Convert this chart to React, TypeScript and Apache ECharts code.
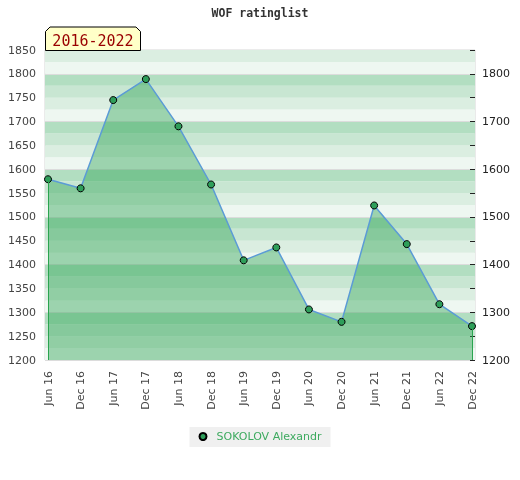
import React, { useEffect, useRef } from "react";
import * as echarts from "echarts";

const categories = [
  "Jun 16", "Dec 16", "Jun 17", "Dec 17", "Jun 18", "Dec 18", "Jun 19",
  "Dec 19", "Jun 20", "Dec 20", "Jun 21", "Dec 21", "Jun 22", "Dec 22",
];
const ratings = [1579, 1560, 1745, 1789, 1690, 1568, 1409, 1436, 1306, 1280, 1524, 1443, 1317, 1271];
const seriesName = "SOKOLOV Alexandr";
const titleText = "WOF ratinglist";
const badgeText = "2016-2022";
const yMin = 1200;
const yMax = 1850;
const bandColors = ["#eef7f1", "#dbeee1", "#c8e6d2", "#b2dec1"];

export default function App() {
  const ref = useRef<HTMLDivElement>(null);
  useEffect(() => {
    if (!ref.current) return;
    const chart = echarts.init(ref.current, null, { renderer: "svg" });
    const n = categories.length;
    chart.setOption({
      animation: false,
      textStyle: { fontFamily: "DejaVu Sans" },
      title: {
        text: titleText,
        left: "center",
        top: 7,
        padding: 0,
        textStyle: {
          fontFamily: "DejaVu Sans Mono",
          fontWeight: "bold",
          fontSize: 11.5,
          color: "#333",
        },
      },
      legend: {
        data: [seriesName],
        icon: "circle",
        itemWidth: 7,
        itemHeight: 7,
        left: "center",
        top: 427,
        padding: [4, 9, 5, 9],
        backgroundColor: "#f0f0f0",
        textStyle: { color: "#3daa5f", fontSize: 11, fontFamily: "DejaVu Sans", padding: [0, 0, 0, 5] },
      },
      grid: [
        { left: 45, top: 50, width: 430, height: 310, show: true, borderColor: "#d6d6d6", borderWidth: 1, backgroundColor: "transparent" },
        { left: 48, top: 50, width: 424, height: 310 },
      ],
      xAxis: [
        { gridIndex: 0, type: "category", data: categories, show: false },
        {
          gridIndex: 1,
          type: "category",
          data: categories,
          boundaryGap: false,
          axisLine: { show: false },
          axisTick: { show: false },
          axisLabel: { rotate: 90, fontSize: 11, color: "#444", margin: 11, interval: 0 },
        },
      ],
      yAxis: [
        {
          gridIndex: 0,
          type: "value",
          position: "left",
          min: yMin,
          max: yMax,
          interval: 25,
          axisLine: { show: false },
          axisTick: { show: false },
          axisLabel: {
            fontSize: 11,
            color: "#444",
            margin: 9,
            formatter: (v: number) => (v % 50 === 0 ? String(v) : ""),
          },
          splitArea: { show: true, areaStyle: { color: bandColors } },
          splitLine: {
            show: true,
            lineStyle: { color: ["#dcdcdc", "transparent", "transparent", "transparent"], width: 1 },
          },
        },
        {
          gridIndex: 0,
          type: "value",
          position: "right",
          min: yMin,
          max: yMax,
          interval: 50,
          axisLine: { show: false },
          axisTick: { show: true, inside: true, length: 5, lineStyle: { color: "#222" } },
          axisLabel: {
            fontSize: 11,
            color: "#222",
            margin: 7,
            formatter: (v: number) => (v % 100 === 0 ? String(v) : ""),
          },
          splitLine: { show: false },
        },
        { gridIndex: 1, type: "value", min: yMin, max: yMax, show: false, splitLine: { show: false } },
      ],
      series: [
        {
          name: seriesName,
          type: "line",
          xAxisIndex: 1,
          yAxisIndex: 2,
          data: ratings,
          symbol: "circle",
          symbolSize: 7,
          itemStyle: { color: "#2e9e5a", borderColor: "#000", borderWidth: 1 },
          lineStyle: { color: "#5b9bd6", width: 1.5 },
          areaStyle: { color: "rgb(42,162,81)", opacity: 0.42, origin: "start" },
          markLine: {
            silent: true,
            symbol: "none",
            label: { show: false },
            lineStyle: { color: "#2aa44f", width: 1, type: "solid" },
            data: [
              [{ coord: [categories[0], ratings[0]] }, { coord: [categories[0], yMin] }],
              [{ coord: [categories[n - 1], ratings[n - 1]] }, { coord: [categories[n - 1], yMin] }],
            ],
          },
          z: 3,
        },
      ],
      graphic: [
        {
          type: "polygon",
          z: 10,
          shape: {
            points: [[45.5, 50.5], [45.5, 31.5], [50, 27], [136, 27], [140.5, 31.5], [140.5, 50.5]],
          },
          style: { fill: "#ffffc8", stroke: "#000", lineWidth: 1 },
        },
        {
          type: "text",
          z: 11,
          x: 93,
          y: 40.5,
          style: {
            text: badgeText,
            fill: "#990000",
            font: "15px 'DejaVu Sans Mono'",
            textAlign: "center",
            textVerticalAlign: "middle",
          },
        },
      ],
    });
    return () => chart.dispose();
  }, []);
  return <div ref={ref} style={{ position: "fixed", left: 0, top: 0, width: 520, height: 480 }} />;
}
